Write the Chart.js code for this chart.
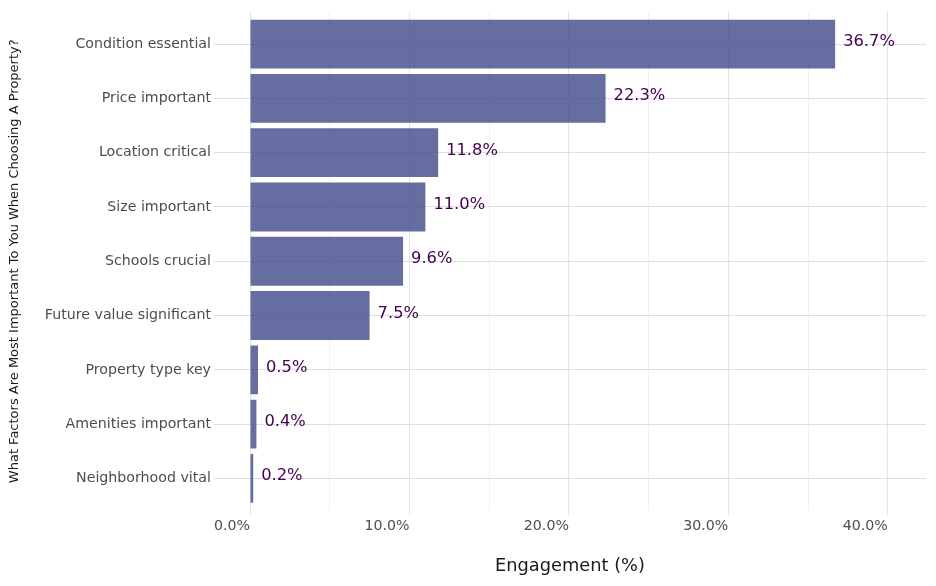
<!DOCTYPE html>
<html>
<head>
<meta charset="utf-8">
<script src="https://cdn.jsdelivr.net/npm/chart.js@4.4.1/dist/chart.umd.min.js"></script>
<style>
  html, body { margin: 0; padding: 0; background: #ffffff; }
  #wrap { width: 936px; height: 586px; }
</style>
</head>
<body>
<div id="wrap"><canvas id="c" width="936" height="586"></canvas></div>
<script>
// ---- data ----
const categories = [
  "Condition essential",
  "Price important",
  "Location critical",
  "Size important",
  "Schools crucial",
  "Future value significant",
  "Property type key",
  "Amenities important",
  "Neighborhood vital"
];
const engagement = [36.7, 22.3, 11.8, 11.0, 9.6, 7.5, 0.5, 0.4, 0.2];
const xTicks = [0, 5, 10, 15, 20, 25, 30, 35, 40];
const xMajorTicks = [0, 10, 20, 30, 40];
const xTitle = "Engagement (%)";
const yTitle = "What Factors Are Most Important To You When Choosing A Property?";

const FONT = "'DejaVu Sans', 'Liberation Sans', sans-serif";

const barLabels = {
  id: 'barLabels',
  afterDatasetsDraw(chart) {
    const ctx = chart.ctx;
    const meta = chart.getDatasetMeta(0);
    ctx.save();
    ctx.font = "16.3px " + FONT;
    ctx.fillStyle = "#440154";
    ctx.textAlign = "left";
    ctx.textBaseline = "alphabetic";
    meta.data.forEach((el, i) => {
      ctx.fillText(engagement[i].toFixed(1) + "%", el.x + 8, el.y + 2);
    });
    ctx.restore();
  }
};

new Chart(document.getElementById('c'), {
  type: 'bar',
  data: {
    datasets: [{
      data: engagement.map((v, i) => ({ x: v, y: i })),
      backgroundColor: 'rgba(62,73,137,0.8)',
      borderWidth: 0,
      barPercentage: 0.9,
      categoryPercentage: 1.0
    }]
  },
  options: {
    indexAxis: 'y',
    responsive: false,
    animation: false,
    devicePixelRatio: 1,
    layout: { padding: { left: 0, right: 10, top: 8, bottom: 0 } },
    plugins: { legend: { display: false }, tooltip: { enabled: false } },
    scales: {
      x: {
        type: 'linear',
        position: 'bottom',
        min: -2.26,
        max: 42.4,
        offset: false,
        afterBuildTicks: (s) => { s.ticks = xTicks.map(v => ({ value: v })); },
        afterFit: (s) => { s.height = 75; },
        border: { display: false },
        grid: {
          offset: false,
          color: (c) => (c.tick && xMajorTicks.includes(c.tick.value)) ? '#E4E4E4' : '#F1F1F1',
          tickColor: (c) => (c.tick && xMajorTicks.includes(c.tick.value)) ? '#E4E4E4' : 'rgba(0,0,0,0)',
          lineWidth: 1,
          drawTicks: true,
          tickLength: 4
        },
        ticks: {
          autoSkip: false,
          maxRotation: 0,
          align: 'end',
          padding: 3,
          color: '#4D4D4D',
          font: { family: FONT, size: 14.2 },
          callback: (v) => xMajorTicks.includes(v) ? v.toFixed(1) + '%' : ''
        },
        title: {
          display: true,
          text: xTitle,
          color: '#1A1A1A',
          font: { family: FONT, size: 17.8 },
          padding: { top: 0, bottom: 9 }
        }
      },
      y: {
        type: 'linear',
        position: 'left',
        reverse: true,
        min: -0.6,
        max: categories.length - 1 + 0.6,
        offset: false,
        afterBuildTicks: (s) => { s.ticks = categories.map((_, i) => ({ value: i })); },
        afterFit: (s) => { s.width = 214; },
        border: { display: false },
        grid: {
          offset: false,
          color: '#DEDEDE',
          lineWidth: 1,
          drawTicks: false
        },
        ticks: {
          autoSkip: false,
          padding: 3,
          color: '#4D4D4D',
          font: { family: FONT, size: 14.2 },
          callback: (v) => categories[v]
        },
        title: {
          display: true,
          text: yTitle,
          color: '#1A1A1A',
          font: { family: FONT, size: 13 },
          padding: { top: 7, bottom: 0 }
        }
      }
    }
  },
  plugins: [barLabels]
});
</script>
</body>
</html>
